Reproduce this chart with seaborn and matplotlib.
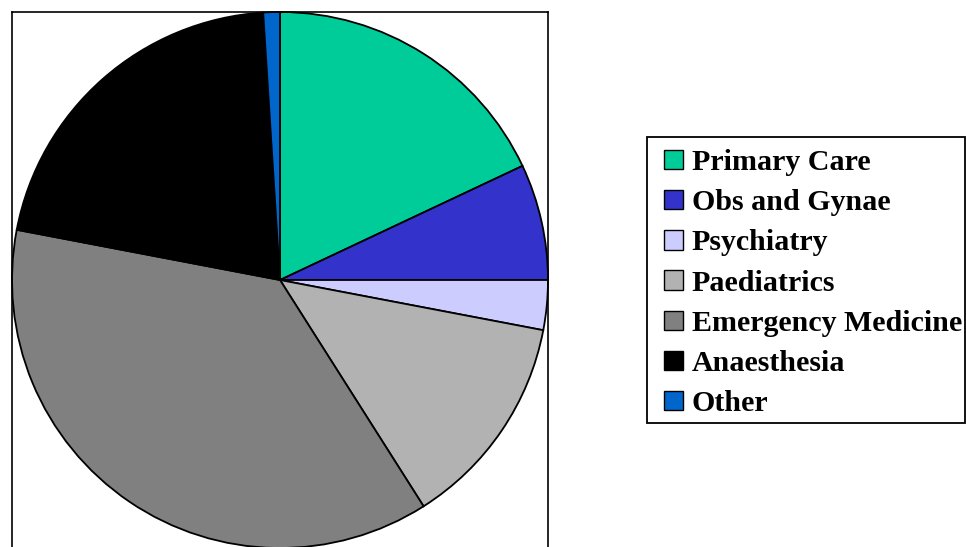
import matplotlib
matplotlib.use("Agg")
import matplotlib.pyplot as plt
from matplotlib.patches import Patch, Rectangle
import seaborn as sns

# Share of trainees by specialty (%)
specialties = ["Primary Care", "Obs and Gynae", "Psychiatry", "Paediatrics",
               "Emergency Medicine", "Anaesthesia", "Other"]
shares = [18, 7, 3, 13, 37, 21, 1]
slice_colors = ["#00CC99", "#3333CC", "#CCCCFF", "#B2B2B2",
                "#808080", "#000000", "#0066CC"]

sns.set_theme(style="white", palette=sns.color_palette(slice_colors))
plt.rcParams["font.family"] = ["Liberation Serif", "DejaVu Serif"]
plt.rcParams["text.color"] = "black"

W, H = 966, 547
fig = plt.figure(figsize=(W / 100, H / 100), dpi=100)
fig.patch.set_facecolor("white")

# Square plot area framed in black; its bottom edge runs past the figure
left, top, side = 12, 12, 536
ax = fig.add_axes([left / W, 1 - (top + side) / H, side / W, side / H])
ax.pie(shares, colors=sns.color_palette(slice_colors), startangle=90,
       counterclock=False, radius=1.0,
       wedgeprops=dict(edgecolor="black", linewidth=1.3))
ax.set_xlim(-1, 1)
ax.set_ylim(-1, 1)
ax.set_aspect("equal")
ax.set_frame_on(True)
ax.set_xticks([])
ax.set_yticks([])
for s in ax.spines.values():
    s.set_visible(True)
    s.set_color("black")
    s.set_linewidth(1.2)
    s.set_zorder(5)

# Legend entries, with a plain rectangular border drawn around them
handles = [Patch(facecolor=c, edgecolor="black", linewidth=1.0) for c in slice_colors]
leg = fig.legend(handles, specialties, loc="upper left",
                 bbox_to_anchor=(664 / W, 1 - 149 / H),
                 bbox_transform=fig.transFigure,
                 prop=dict(family="Liberation Serif", weight="bold", size=21.6),
                 labelcolor="black", frameon=False,
                 handlelength=0.62, handleheight=0.62, handletextpad=0.3,
                 labelspacing=0.44, borderpad=0.0, borderaxespad=0.0)
fig.patches.append(Rectangle((647 / W, 1 - 423 / H), (965 - 647) / W, (423 - 137) / H,
                             transform=fig.transFigure, fill=False,
                             edgecolor="black", linewidth=1.3, zorder=3))

fig.savefig("out.png", dpi=100, facecolor="white")
